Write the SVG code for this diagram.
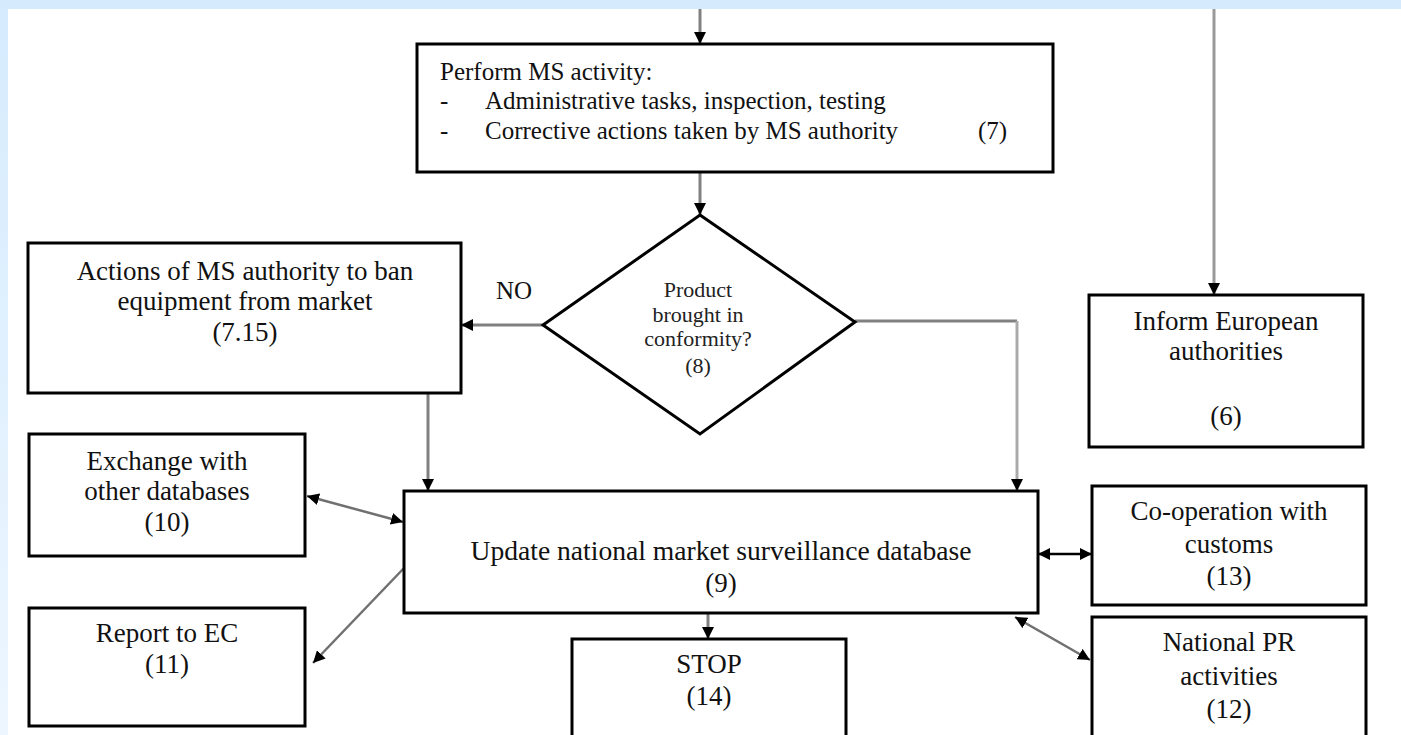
<svg xmlns="http://www.w3.org/2000/svg" width="1401" height="735" viewBox="0 0 1401 735">
  <defs>
    <linearGradient id="bg" x1="0" y1="0" x2="0" y2="1">
      <stop offset="0" stop-color="#d5ebfd"/>
      <stop offset="1" stop-color="#edf6ff"/>
    </linearGradient>
    <marker id="ah" viewBox="0 0 12 12" refX="12" refY="6" markerWidth="12" markerHeight="12" markerUnits="userSpaceOnUse" orient="auto-start-reverse">
      <path d="M0,0 L12,6 L0,12 z" fill="#000"/>
    </marker>
  </defs>
  <style>
    .box { fill: #fff; stroke: #000; stroke-width: 3; }
    .t { font-family: "Liberation Serif", "Times New Roman", serif; font-size: 27px; fill: #111; text-anchor: middle; }
    .t7 { font-family: "Liberation Serif", "Times New Roman", serif; font-size: 25px; fill: #111; }
    .td { font-family: "Liberation Serif", "Times New Roman", serif; font-size: 22px; fill: #222; text-anchor: middle; }
    .c { fill: none; stroke: #808080; stroke-width: 3; }
    .ca { fill: none; stroke: #808080; stroke-width: 3; marker-end: url(#ah); }
    .cb { fill: none; stroke: #707070; stroke-width: 2.5; marker-start: url(#ah); marker-end: url(#ah); }
  </style>
  <rect x="0" y="0" width="1401" height="735" fill="url(#bg)"/>
  <rect x="8" y="9" width="1393" height="726" fill="#fff"/>

  <g id="connectors">
    <path class="ca" d="M700,9 V44"/>
    <path class="ca" d="M700,172 V215"/>
    <path class="ca" d="M543,325 H461"/>
    <path class="c" d="M855,321 H1017" stroke="#6a6a6a"/>
    <path class="ca" d="M1017,321 V491" style="stroke:#aaaaaa"/>
    <path class="ca" d="M428,393 V491"/>
    <path class="ca" d="M1214,9 V295" style="stroke:#999999"/>
    <path class="cb" d="M307,496 L403,522"/>
    <path class="ca" d="M405,567 L313,663" style="stroke-width:2.5;stroke:#707070"/>
    <path class="ca" d="M708,613 V639"/>
    <path class="cb" d="M1038,554 H1092" style="stroke:#000"/>
    <path class="cb" d="M1015,617 L1090,660"/>
  </g>

  <g id="n7">
    <rect class="box" x="417" y="44" width="636" height="128"/>
    <text class="t7" x="440" y="80">Perform MS activity:</text>
    <text class="t7" x="440" y="109">-</text>
    <text class="t7" x="485" y="109">Administrative tasks, inspection, testing</text>
    <text class="t7" x="440" y="139">-</text>
    <text class="t7" x="485" y="139">Corrective actions taken by MS authority</text>
    <text class="t7" x="978" y="139">(7)</text>
  </g>

  <g id="n8">
    <polygon points="700,215 855,322 700,434 543,325" fill="#fff" stroke="#000" stroke-width="3"/>
    <text class="td" x="698" y="297">Product</text>
    <text class="td" x="698" y="322">brought in</text>
    <text class="td" x="698" y="346">conformity?</text>
    <text class="td" x="698" y="373">(8)</text>
  </g>

  <g id="no-label">
    <text class="t" x="514" y="299" style="font-size:25px">NO</text>
  </g>

  <g id="n715">
    <rect class="box" x="28" y="243" width="433" height="150"/>
    <text class="t" x="245" y="280">Actions of MS authority to ban</text>
    <text class="t" x="245" y="310">equipment from market</text>
    <text class="t" x="245" y="341">(7.15)</text>
  </g>

  <g id="n6">
    <rect class="box" x="1089" y="295" width="274" height="152"/>
    <text class="t" x="1226" y="330">Inform European</text>
    <text class="t" x="1226" y="360">authorities</text>
    <text class="t" x="1226" y="425">(6)</text>
  </g>

  <g id="n10">
    <rect class="box" x="29" y="434" width="276" height="122"/>
    <text class="t" x="167" y="470">Exchange with</text>
    <text class="t" x="167" y="500">other databases</text>
    <text class="t" x="167" y="531">(10)</text>
  </g>

  <g id="n11">
    <rect class="box" x="29" y="608" width="276" height="118"/>
    <text class="t" x="167" y="642">Report to EC</text>
    <text class="t" x="167" y="673">(11)</text>
  </g>

  <g id="n9">
    <rect class="box" x="404" y="491" width="634" height="122"/>
    <text class="t" x="721" y="560" style="font-size:27.6px">Update national market surveillance database</text>
    <text class="t" x="721" y="592">(9)</text>
  </g>

  <g id="n14">
    <rect class="box" x="572" y="639" width="274" height="110"/>
    <text class="t" x="709" y="673">STOP</text>
    <text class="t" x="709" y="705">(14)</text>
  </g>

  <g id="n13">
    <rect class="box" x="1092" y="486" width="274" height="119"/>
    <text class="t" x="1229" y="520">Co-operation with</text>
    <text class="t" x="1229" y="553">customs</text>
    <text class="t" x="1229" y="585">(13)</text>
  </g>

  <g id="n12">
    <rect class="box" x="1092" y="617" width="274" height="132"/>
    <text class="t" x="1229" y="651">National PR</text>
    <text class="t" x="1229" y="685">activities</text>
    <text class="t" x="1229" y="718">(12)</text>
  </g>
</svg>
